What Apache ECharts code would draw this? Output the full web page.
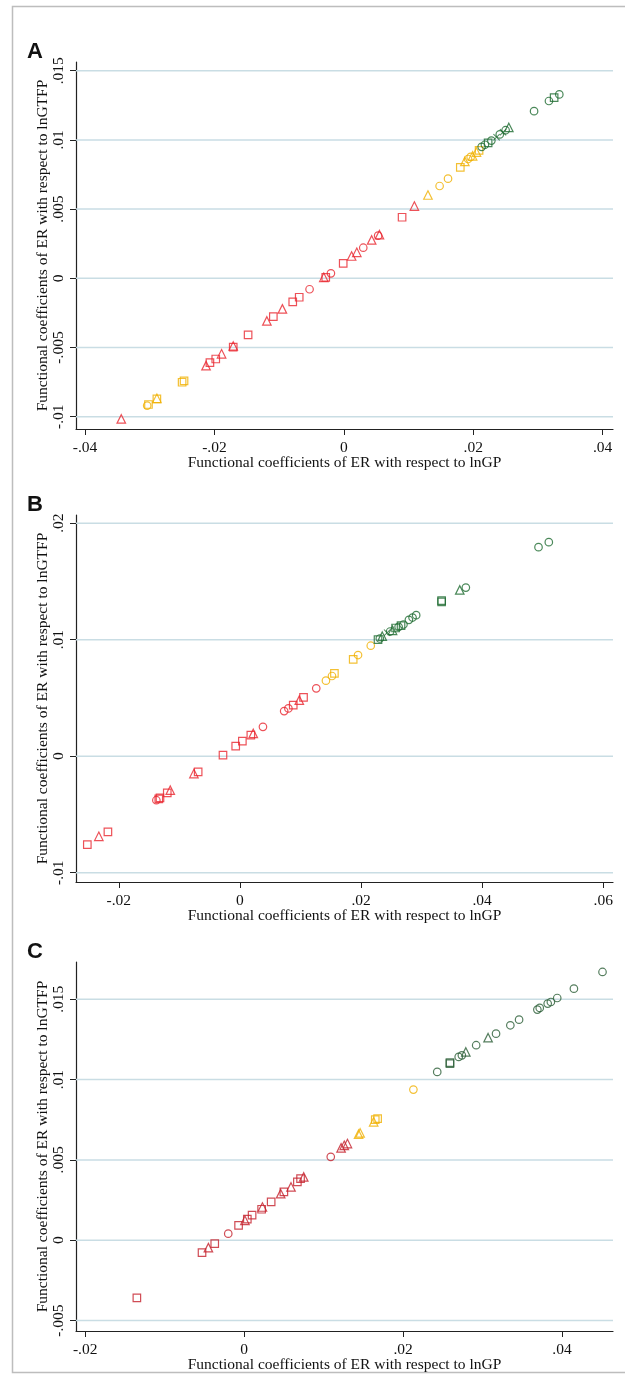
<!DOCTYPE html>
<html>
<head>
<meta charset="utf-8">
<script src="https://cdn.jsdelivr.net/npm/echarts@6/dist/echarts.min.js"></script>
<style>
  html, body { margin: 0; padding: 0; background: #fff; }
  #main { width: 625px; height: 1374px; }
</style>
</head>
<body>
<div id="main"></div>
<script>
// point = [x, y, shape]  o circle, s square, t triangle, x cross
var A_red = [
  [-0.0344, -0.01016, 't'], [-0.0213, -0.00631, 't'], [-0.0207, -0.00609, 's'], [-0.0198, -0.00583, 's'],
  [-0.0189, -0.00546, 't'], [-0.0171, -0.00489, 't'], [-0.0171, -0.00498, 's'], [-0.0148, -0.00409, 's'],
  [-0.0119, -0.00308, 't'], [-0.0109, -0.00277, 's'], [-0.0095, -0.00221, 't'], [-0.0079, -0.00171, 's'],
  [-0.0069, -0.00137, 's'], [-0.0053, -0.00079, 'o'], [-0.0031, 0.00007, 't'], [-0.0028, 0.00007, 's'],
  [-0.0020, 0.00036, 'o'], [-0.0001, 0.00108, 's'], [0.0012, 0.00161, 't'], [0.0020, 0.00188, 't'],
  [0.0030, 0.00221, 'o'], [0.0043, 0.00277, 't'], [0.0053, 0.00308, 'o'], [0.0055, 0.00315, 't'],
  [0.0090, 0.00441, 's'], [0.0109, 0.00522, 't']
];
var A_gold = [
  [-0.0250, -0.00751, 's'], [-0.0247, -0.00741, 's'], [-0.0289, -0.00867, 't'], [-0.0289, -0.00871, 's'],
  [-0.0304, -0.00920, 'o'], [-0.0302, -0.00912, 's'], [0.0130, 0.00602, 't'], [0.0148, 0.00667, 'o'],
  [0.0161, 0.00720, 'o'], [0.0180, 0.00802, 's'], [0.0187, 0.00845, 't'], [0.0192, 0.00862, 'o'],
  [0.0196, 0.00877, 'o'], [0.0199, 0.00885, 't'], [0.0205, 0.00912, 't'], [0.0209, 0.00925, 's']
];
var A_green = [
  [0.0213, 0.00950, 'o'], [0.0218, 0.00965, 'o'], [0.0223, 0.00978, 's'], [0.0228, 0.00995, 'o'],
  [0.0236, 0.01020, 'x'], [0.0241, 0.01040, 'o'], [0.0246, 0.01055, 'x'], [0.0250, 0.01070, 'o'],
  [0.0255, 0.01090, 't'], [0.0294, 0.01208, 'o'], [0.0317, 0.01281, 'o'], [0.0325, 0.01305, 's'],
  [0.0333, 0.01329, 'o']
];

var B_red = [
  [-0.0252, -0.00759, 's'], [-0.0233, -0.00688, 't'], [-0.0218, -0.00650, 's'], [-0.0138, -0.00378, 'o'],
  [-0.0134, -0.00367, 's'], [-0.0132, -0.00358, 's'], [-0.0120, -0.00315, 's'], [-0.0115, -0.00292, 't'],
  [-0.0076, -0.00149, 't'], [-0.0069, -0.00135, 's'], [-0.0028, 0.00009, 's'], [-0.0007, 0.00086, 's'],
  [0.0004, 0.00129, 's'], [0.0018, 0.00181, 's'], [0.0022, 0.00195, 't'], [0.0038, 0.00252, 'o'],
  [0.0073, 0.00387, 'o'], [0.0080, 0.00410, 'o'], [0.0088, 0.00438, 's'], [0.0098, 0.00481, 't'],
  [0.0105, 0.00504, 's'], [0.0126, 0.00582, 'o']
];
var B_gold = [
  [0.0142, 0.00648, 'o'], [0.0152, 0.00688, 'o'], [0.0156, 0.00711, 's'], [0.0187, 0.00831, 's'],
  [0.0195, 0.00868, 'o'], [0.0216, 0.00948, 'o']
];
var B_green = [
  [0.0228, 0.01000, 's'], [0.0231, 0.01010, 'o'], [0.0235, 0.01030, 't'], [0.0243, 0.01060, 'x'],
  [0.0248, 0.01070, 'o'], [0.0252, 0.01080, 't'], [0.0257, 0.01100, 's'], [0.0262, 0.01110, 'o'],
  [0.0266, 0.01120, 's'], [0.0270, 0.01130, 'o'], [0.0279, 0.01170, 'o'], [0.0285, 0.01190, 'o'],
  [0.0291, 0.01210, 'o'], [0.0333, 0.01335, 's'], [0.0333, 0.01325, 's'], [0.0363, 0.01427, 't'],
  [0.0373, 0.01447, 'o'], [0.0493, 0.01794, 'o'], [0.0510, 0.01837, 'o']
];

var C_red = [
  [-0.0135, -0.00359, 's'], [-0.0053, -0.00077, 's'], [-0.0045, -0.00046, 't'], [-0.0037, -0.00021, 's'],
  [-0.0020, 0.00041, 'o'], [-0.0007, 0.00093, 's'], [0.0001, 0.00124, 't'], [0.0004, 0.00131, 's'],
  [0.0010, 0.00156, 's'], [0.0022, 0.00193, 's'], [0.0023, 0.00207, 't'], [0.0034, 0.00239, 's'],
  [0.0046, 0.00290, 't'], [0.0050, 0.00301, 's'], [0.0059, 0.00332, 't'], [0.0067, 0.00363, 's'],
  [0.0071, 0.00384, 's'], [0.0075, 0.00394, 't'], [0.0109, 0.00519, 'o'], [0.0122, 0.00575, 't'],
  [0.0126, 0.00591, 't'], [0.0130, 0.00602, 't']
];
var C_gold = [
  [0.0144, 0.00660, 't'], [0.0146, 0.00668, 't'], [0.0163, 0.00737, 't'], [0.0165, 0.00751, 's'],
  [0.0168, 0.00757, 's'], [0.0213, 0.00938, 'o']
];
var C_green = [
  [0.0243, 0.01048, 'o'], [0.0259, 0.01106, 's'], [0.0259, 0.01100, 's'], [0.0270, 0.01141, 'o'],
  [0.0274, 0.01151, 'o'], [0.0279, 0.01172, 't'], [0.0292, 0.01214, 'o'], [0.0307, 0.01261, 't'],
  [0.0317, 0.01286, 'o'], [0.0335, 0.01338, 'o'], [0.0346, 0.01373, 'o'], [0.0369, 0.01436, 'o'],
  [0.0372, 0.01446, 'o'], [0.0382, 0.01473, 'o'], [0.0386, 0.01483, 'o'], [0.0394, 0.01508, 'o'],
  [0.0415, 0.01566, 'o'], [0.0451, 0.01670, 'o']
];

var A_xTicks = [-0.04, -0.02, 0, 0.02, 0.04];
var A_xLabels = ['-.04', '-.02', '0', '.02', '.04'];
var A_yTicks = [-0.01, -0.005, 0, 0.005, 0.01, 0.015];
var A_yLabels = ['-.01', '-.005', '0', '.005', '.01', '.015'];
var B_xTicks = [-0.02, 0, 0.02, 0.04, 0.06];
var B_xLabels = ['-.02', '0', '.02', '.04', '.06'];
var B_yTicks = [-0.01, 0, 0.01, 0.02];
var B_yLabels = ['-.01', '0', '.01', '.02'];
var C_xTicks = [-0.02, 0, 0.02, 0.04];
var C_xLabels = ['-.02', '0', '.02', '.04'];
var C_yTicks = [-0.005, 0, 0.005, 0.01, 0.015];
var C_yLabels = ['-.005', '0', '.005', '.01', '.015'];

var xTitle = 'Functional coefficients of ER with respect to lnGP';
var yTitle = 'Functional coefficients of ER with respect to lnGTFP';

var serif = '"Liberation Serif", "Times New Roman", serif';
var fs = 15.5;
var gridColor = '#c9dde4';
var crossPath = 'path://M0,1 L1,0 L5,4 L9,0 L10,1 L6,5 L10,9 L9,10 L5,6 L1,10 L0,9 L4,5 Z';

var panels = [
  { letter: 'A', top: 62, height: 367, xr: [-0.0414, 0.0416], yr: [-0.01089, 0.01563],
    xt: A_xTicks, xl: A_xLabels, yt: A_yTicks, yl: A_yLabels,
    groups: [[A_red, '#e8262e'], [A_gold, '#f0b000'], [A_green, '#1d6a2f']] },
  { letter: 'B', top: 515, height: 367, xr: [-0.02707, 0.0616], yr: [-0.0108, 0.0207],
    xt: B_xTicks, xl: B_xLabels, yt: B_yTicks, yl: B_yLabels,
    groups: [[B_red, '#e8262e'], [B_gold, '#f0b000'], [B_green, '#1d6a2f']] },
  { letter: 'C', top: 962, height: 369, xr: [-0.02116, 0.04642], yr: [-0.00565, 0.01732],
    xt: C_xTicks, xl: C_xLabels, yt: C_yTicks, yl: C_yLabels,
    groups: [[C_red, '#c41f2b'], [C_gold, '#f0b000'], [C_green, '#2a5e36']] }
];

function labelFor(ticks, labels) {
  return function (v) {
    for (var i = 0; i < ticks.length; i++) {
      if (Math.abs(ticks[i] - v) < 1e-9) return labels[i];
    }
    return '';
  };
}

var grids = [], xAxes = [], yAxes = [], series = [], graphics = [];

panels.forEach(function (p, i) {
  grids.push({ left: 76, right: 12, top: p.top, height: p.height, containLabel: false });
  xAxes.push({
    type: 'value', gridIndex: i, min: p.xr[0], max: p.xr[1],
    name: xTitle, nameLocation: 'middle', nameGap: 26, nameMoveOverlap: false,
    nameTextStyle: { fontFamily: serif, fontSize: fs, color: '#111' },
    axisLine: { show: true, onZero: false, lineStyle: { color: '#222', width: 1.2 } },
    axisTick: { show: true, length: 6, customValues: p.xt, lineStyle: { color: '#222' } },
    axisLabel: { customValues: p.xt, formatter: labelFor(p.xt, p.xl), fontFamily: serif,
      fontSize: fs, color: '#111', margin: 11 },
    splitLine: { show: false }
  });
  yAxes.push({
    type: 'value', gridIndex: i, min: p.yr[0], max: p.yr[1],
    name: yTitle, nameLocation: 'middle', nameGap: 25, nameRotate: 90, nameMoveOverlap: false,
    nameTextStyle: { fontFamily: serif, fontSize: fs, color: '#111' },
    axisLine: { show: true, onZero: false, lineStyle: { color: '#222', width: 1.2 } },
    axisTick: { show: true, length: 6, customValues: p.yt, lineStyle: { color: '#222' } },
    axisLabel: { customValues: p.yt, formatter: labelFor(p.yt, p.yl), rotate: 90, fontFamily: serif,
      fontSize: fs, color: '#111', margin: 9 },
    splitLine: { show: false }
  });
  // horizontal grid lines at the y ticks, across the full x range
  p.yt.forEach(function (t) {
    series.push({
      type: 'line', xAxisIndex: i, yAxisIndex: i, z: 1, silent: true, symbol: 'none',
      lineStyle: { color: gridColor, width: 1.5 },
      data: [[p.xr[0], t], [p.xr[1], t]]
    });
  });
  p.groups.forEach(function (g) {
    var pts = g[0], col = g[1];
    [['o', 'circle'], ['s', 'rect'], ['t', 'triangle'], ['x', crossPath]].forEach(function (sh) {
      var d = pts.filter(function (q) { return q[2] === sh[0]; }).map(function (q) { return [q[0], q[1]]; });
      if (!d.length) return;
      var isX = sh[0] === 'x';
      series.push({
        type: 'scatter', xAxisIndex: i, yAxisIndex: i, data: d, z: 3,
        symbol: sh[1], symbolSize: isX ? 7 : (sh[0] === 't' ? 8.5 : 7.5),
        itemStyle: isX ? { color: col } : { color: 'rgba(255,255,255,0)', borderColor: col, borderWidth: 1.2 }
      });
    });
  });
  graphics.push({
    type: 'text', left: 27, top: p.top - 21,
    style: { text: p.letter, font: 'bold 22px "Liberation Sans", Arial, sans-serif', fill: '#111' }
  });
});

graphics.push({
  type: 'rect', shape: { x: 12.5, y: 6.5, width: 640, height: 1366 },
  style: { fill: 'none', stroke: '#bdbdbd', lineWidth: 1.5 }, silent: true
});

var chart = echarts.init(document.getElementById('main'));
chart.setOption({
  animation: false,
  backgroundColor: '#fff',
  grid: grids,
  xAxis: xAxes,
  yAxis: yAxes,
  series: series,
  graphic: graphics
});
</script>
</body>
</html>
